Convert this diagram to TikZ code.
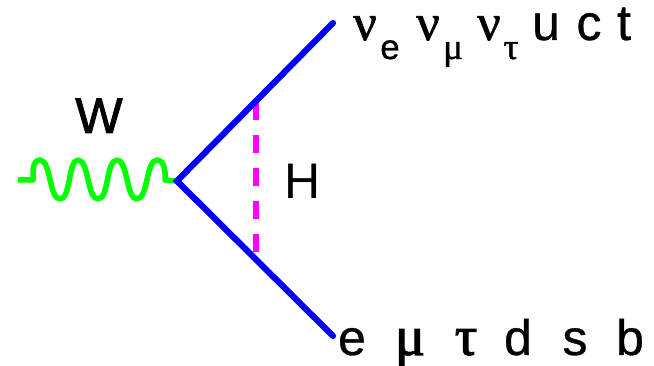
\documentclass[tikz,border=0pt]{standalone}
\usepackage{fontspec}
\setmainfont{Liberation Sans}
\newfontfamily\heavyf[RawFeature={embolden=0.7}]{Liberation Sans}
\newfontfamily\heavierf[RawFeature={embolden=1.8}]{Liberation Sans}
\newfontfamily\greekf[RawFeature={embolden=1.2}]{Liberation Serif}
\newfontfamily\greekbig[RawFeature={embolden=2}]{Liberation Serif}
\definecolor{pureblue}{RGB}{0,0,255}
\definecolor{puremag}{RGB}{255,0,255}
\definecolor{puregreen}{RGB}{0,255,0}
\tikzset{
  lbl/.style={anchor=base,inner sep=0pt,outer sep=0pt,font=\fontsize{50}{50}\selectfont\heavyf,text=black},
  heavylbl/.style={anchor=base,inner sep=0pt,outer sep=0pt,font=\fontsize{50}{50}\selectfont\heavierf,text=black},
  thinlbl/.style={anchor=base,inner sep=0pt,outer sep=0pt,font=\fontsize{50}{50}\selectfont,text=black},
  grk/.style={anchor=base,inner sep=0pt,outer sep=0pt,font=\fontsize{52}{52}\selectfont\greekf,text=black},
  grkbig/.style={anchor=base,inner sep=0pt,outer sep=0pt,font=\fontsize{56}{56}\selectfont\greekbig,text=black},
  subl/.style={anchor=base,inner sep=0pt,outer sep=0pt,font=\fontsize{35}{35}\selectfont\heavyf,text=black},
  subg/.style={anchor=base,inner sep=0pt,outer sep=0pt,font=\fontsize{37}{37}\selectfont\greekf,text=black},
  fermion/.style={draw=pureblue,line width=6.2pt,line cap=round,line join=miter},
  higgs/.style={draw=puremag,line width=6pt,dash pattern=on 18pt off 15pt},
  boson/.style={draw=puregreen,line width=5.5pt,line join=round}
}
\begin{document}
\begin{tikzpicture}[x=1pt,y=-1pt]
\useasboundingbox (0,0) rectangle (654,366);
\coordinate (v) at (177,181);
\coordinate (wend) at (18,180);
\coordinate (topend) at (333,23);
\coordinate (botend) at (333,336);
\coordinate (ha) at (255.7,102);
\coordinate (hb) at (255.7,252);
\draw[boson] (wend) -- (33,180) -- (33,170)
  .. controls (34,163) and (36,160) .. (40,160)
  .. controls (51,160) and (49,199) .. (60,199)
  .. controls (71,199) and (68,160) .. (78,160)
  .. controls (89,160) and (87,199) .. (98,199)
  .. controls (109,199) and (106,160) .. (117,160)
  .. controls (128,160) and (126,199) .. (137,199)
  .. controls (148,199) and (146,160) .. (157,160)
  .. controls (162,160) and (164,165) .. (165,172) -- (165,180) -- (v);
\draw[higgs] (ha) -- (hb);
\draw[fermion] (topend) -- (v) -- (botend);
\node[heavylbl] (w) at (99,133) {W};
\node[thinlbl] (h) at (302.5,199) {H};
\node[grk] (n1) at (365,40) {ν};
\node[subl] (s1) at (390,59) {e};
\node[grk] (n2) at (428,40) {ν};
\node[subg] (s2) at (453,59) {μ};
\node[grk] (n3) at (489,40) {ν};
\node[subg] (s3) at (511,59) {τ};
\node[lbl] (u) at (546,40) {u};
\node[lbl] (c) at (589,40) {c};
\node[lbl] (t) at (624,40) {t};
\node[lbl] (e) at (352,355) {e};
\node[grkbig] (mu) at (410,355) {μ};
\node[grkbig] (tau) at (466,355) {τ};
\node[lbl] (d) at (518,355) {d};
\node[lbl] (s) at (575,355) {s};
\node[lbl] (b) at (630,355) {b};
\end{tikzpicture}
\end{document}
